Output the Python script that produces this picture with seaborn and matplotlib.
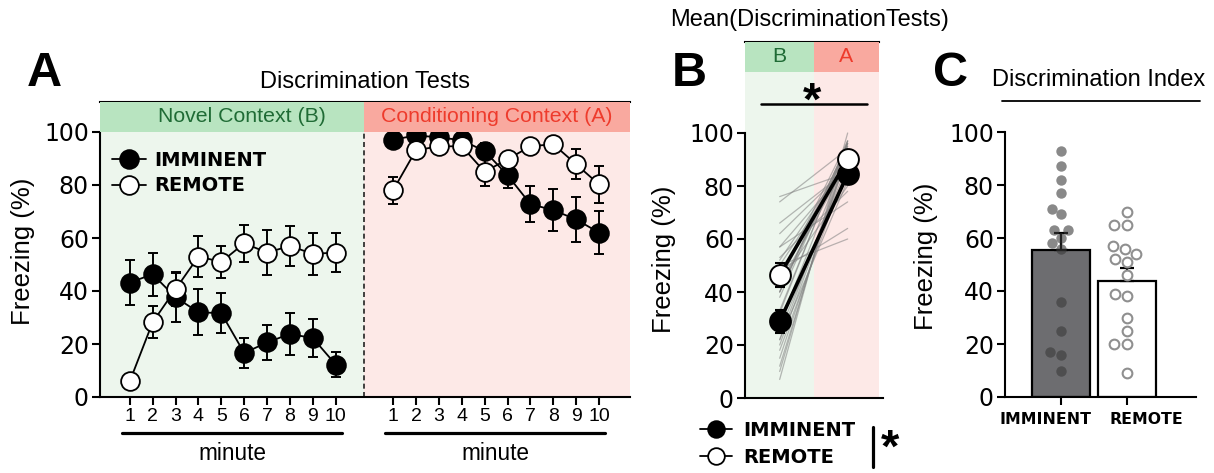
import numpy as np
import pandas as pd
import matplotlib
matplotlib.use("Agg")
import matplotlib.pyplot as plt
import matplotlib.transforms as mtransforms
from matplotlib.lines import Line2D
import seaborn as sns

sns.set_theme(style="ticks")
plt.rcParams["font.family"] = ["Liberation Sans", "DejaVu Sans"]
for k in ["text.color", "axes.labelcolor", "xtick.color", "ytick.color", "axes.edgecolor"]:
    plt.rcParams[k] = "black"

# ---------------- data ----------------
minutes = list(range(1, 11))
imm_B = [43.2, 46.3, 37.6, 32.0, 31.6, 16.6, 20.6, 23.8, 22.2, 12.2]
imm_B_sem = [8.5, 8.0, 9.3, 8.7, 7.5, 5.7, 6.6, 8.0, 7.2, 4.7]
rem_B = [5.9, 28.2, 40.7, 53.0, 51.0, 58.0, 54.5, 57.0, 54.0, 54.5]
rem_B_sem = [1.0, 6.0, 6.5, 7.8, 6.0, 7.0, 8.5, 7.5, 8.0, 7.5]
imm_A = [97.1, 98.7, 98.0, 96.9, 92.8, 83.7, 72.8, 70.5, 67.0, 62.0]
imm_A_sem = [2.0, 1.5, 1.5, 1.5, 3.0, 4.8, 6.8, 8.0, 8.5, 8.2]
rem_A = [78.0, 93.1, 94.6, 94.6, 85.0, 89.7, 94.6, 95.4, 87.8, 80.2]
rem_A_sem = [5.0, 2.0, 1.5, 1.5, 5.5, 2.5, 1.5, 1.5, 5.6, 7.0]

contexts = ["B", "A"]
imm_mean = [28.9, 84.4]
imm_mean_sem = [4.3, 2.5]
rem_mean = [46.4, 90.0]
rem_mean_sem = [4.4, 2.0]

imm_ind_B = [7, 10, 12, 15, 20, 18, 25, 33, 22, 28, 40, 44, 53, 57, 48, 50]
imm_ind_A = [100, 97, 94, 92, 91, 87, 88, 96, 82, 86, 96, 80, 78, 74, 64, 60]
rem_ind_B = [22, 28, 32, 38, 40, 40, 45, 44, 43, 50, 52, 57, 62, 66, 74, 76]
rem_ind_A = [92, 93, 97, 95, 96, 94, 97, 95, 89, 89, 90, 87, 87, 86, 94, 85]

groups = ["IMMINENT", "REMOTE"]
imm_DI = [93, 87, 82, 77, 71, 69, 63, 63, 60, 58, 56, 36, 25, 17, 16, 10]
rem_DI = [70, 65, 65, 57, 56, 54, 52, 51, 46, 39, 38, 30, 25, 20, 20, 9]
DI_mean = [55.5, 43.9]
DI_sem = [6.5, 4.7]

# ---------------- style ----------------
G_LIGHT, G_HEAD, G_TEXT = "#edf6ed", "#b8e4c0", "#1f6b35"
R_LIGHT, R_HEAD, R_TEXT = "#fde9e7", "#f9a99f", "#ee3b2c"
BAR_DARK = "#6d6d70"
TICKFONT = "DejaVu Sans"

W, H = 1214, 473
fig = plt.figure(figsize=(W / 100, H / 100), dpi=100)


def ax_px(x0, x1, y_top, y_bot):
    return fig.add_axes([x0 / W, 1 - y_bot / H, (x1 - x0) / W, (y_bot - y_top) / H])


def style_axes(ax):
    for s in ["left", "bottom", "top"]:
        ax.spines[s].set_linewidth(1.5)
        ax.spines[s].set_color("black")
    ax.spines["right"].set_visible(False)
    ax.tick_params(axis="both", direction="out", length=6, width=1.5, color="black", pad=2)
    ax.set_yticks([0, 20, 40, 60, 80, 100])
    for lab in ax.get_yticklabels():
        lab.set_fontfamily(TICKFONT)
        lab.set_fontsize(17)
    ax.spines["left"].set_bounds(0, 100)
    ax.grid(False)
    ax.set_facecolor("none")


# ================= Panel A =================
axA = ax_px(100, 630, 102, 397)
ytopA = 100 * 295 / 265
xlA = (-0.3, 22.85)
axA.set_xlim(*xlA)
axA.set_ylim(0, ytopA)
left_pos = list(minutes)
right_pos = [m + 11.5 for m in minutes]
split = 11.25
hfrac = 100 / ytopA
axA.axvspan(xlA[0], split, ymin=0, ymax=hfrac, color=G_LIGHT, lw=0, zorder=0)
axA.axvspan(split, xlA[1], ymin=0, ymax=hfrac, color=R_LIGHT, lw=0, zorder=0)
axA.axvspan(xlA[0], split, ymin=hfrac, ymax=1, color=G_HEAD, lw=0, zorder=10)
axA.axvspan(split, xlA[1], ymin=hfrac, ymax=1, color=R_HEAD, lw=0, zorder=10)
axA.plot([split, split], [0, 100], ls=(0, (3, 2)), color="#222222", lw=1.2, zorder=1)

series = [
    (left_pos, imm_B, imm_B_sem, "black"),
    (right_pos, imm_A, imm_A_sem, "black"),
    (left_pos, rem_B, rem_B_sem, "white"),
    (right_pos, rem_A, rem_A_sem, "white"),
]
for pos, vals, sem, face in series:
    axA.errorbar(pos, vals, yerr=sem, fmt="none", ecolor="black", elinewidth=1.4,
                 capsize=3.5, capthick=1.4, zorder=2)
    sns.lineplot(x=pos, y=vals, ax=axA, color="black", lw=1.3, marker="o",
                 markersize=13.5, markerfacecolor=face, markeredgecolor="black",
                 markeredgewidth=1.3, zorder=3)

style_axes(axA)
axA.set_xticks(left_pos + right_pos)
axA.set_xticklabels([str(m) for m in minutes] * 2, fontsize=14)
axA.set_xlabel("")
axA.set_ylabel("Freezing (%)", fontsize=18.5)
axA.yaxis.set_label_coords(-0.122, 0.495)

axA.text(5.9, (100 + ytopA) / 2, "Novel Context (B)", ha="center", va="center",
         color=G_TEXT, fontsize=15.3, zorder=11)
axA.text(17.04, (100 + ytopA) / 2, "Conditioning Context (A)", ha="center", va="center",
         color=R_TEXT, fontsize=15.3, zorder=11)

trA = mtransforms.blended_transform_factory(axA.transData, axA.transAxes)
for pos in (left_pos, right_pos):
    x0, x1 = pos[0] - 0.34, pos[-1] + 0.27
    axA.plot([x0, x1], [-0.122, -0.122], transform=trA, clip_on=False, color="black", lw=2.3)
    axA.text((x0 + x1) / 2, -0.19, "minute", transform=trA, ha="center", va="center",
             fontsize=16.3)

handles = [
    Line2D([], [], color="black", lw=1.3, marker="o", markersize=13.5,
           markerfacecolor="black", markeredgecolor="black", markeredgewidth=1.3),
    Line2D([], [], color="black", lw=1.3, marker="o", markersize=13.5,
           markerfacecolor="white", markeredgecolor="black", markeredgewidth=1.3),
]
axA.legend(handles, groups, loc="upper left", bbox_to_anchor=(0.022, 0.835), frameon=False,
           prop={"family": "DejaVu Sans", "weight": "bold", "size": 14},
           handlelength=1.75, handletextpad=0.45, labelspacing=0.35, borderaxespad=0,
           borderpad=0)

fig.text(365 / W, 1 - 82 / H, "Discrimination Tests", ha="center", va="center", fontsize=17)
fig.text(44 / W, 1 - 74 / H, "A", ha="center", va="center", fontsize=35, fontweight="bold")

# ================= Panel B =================
axB = ax_px(745, 883, 42, 398)
ytopB = 356 / 2.65
hB = 326 / 2.65
xlB = (-0.51, 1.52)
axB.set_xlim(*xlB)
axB.set_ylim(0, ytopB)
bfrac = hB / ytopB
axB.axvspan(xlB[0], 0.5, ymin=0, ymax=bfrac, color=G_LIGHT, lw=0, zorder=0)
axB.axvspan(0.5, 1.46, ymin=0, ymax=bfrac, color=R_LIGHT, lw=0, zorder=0)
axB.axvspan(xlB[0], 0.5, ymin=bfrac, ymax=1, color=G_HEAD, lw=0, zorder=10)
axB.axvspan(0.5, 1.46, ymin=bfrac, ymax=1, color=R_HEAD, lw=0, zorder=10)

rows = []
for gname, bv, av in [("IMM", imm_ind_B, imm_ind_A), ("REM", rem_ind_B, rem_ind_A)]:
    for i, (b, a) in enumerate(zip(bv, av)):
        rows.append({"animal": f"{gname}{i}", "pos": 0, "val": b})
        rows.append({"animal": f"{gname}{i}", "pos": 1, "val": a})
df_ind = pd.DataFrame(rows)
sns.lineplot(data=df_ind, x="pos", y="val", units="animal", estimator=None,
             color="#808080", alpha=0.55, lw=0.9, ax=axB, zorder=1)

for vals, sem, face in [(imm_mean, imm_mean_sem, "black"), (rem_mean, rem_mean_sem, "white")]:
    axB.errorbar([0, 1], vals, yerr=sem, fmt="none", ecolor="black", elinewidth=1.5,
                 capsize=3.5, capthick=1.5, zorder=2)
    sns.lineplot(x=[0, 1], y=vals, ax=axB, color="black", lw=2.6, marker="o",
                 markersize=15, markerfacecolor=face, markeredgecolor="black",
                 markeredgewidth=1.4, zorder=3)

style_axes(axB)
axB.spines["top"].set_bounds(xlB[0], 1.46)
axB.set_xticks([])
axB.set_xlabel("")
axB.set_ylabel("Freezing (%)", fontsize=18.5)
axB.yaxis.set_label_coords(-0.50, 0.39)
axB.text(0.0, (hB + ytopB) / 2, contexts[0], ha="center", va="center", color=G_TEXT,
         fontsize=15.3, zorder=11)
axB.text(0.98, (hB + ytopB) / 2, contexts[1], ha="center", va="center", color=R_TEXT,
         fontsize=15.3, zorder=11)
axB.plot([-0.28, 1.29], [110.9, 110.9], color="black", lw=1.8, clip_on=False, zorder=4)
axB.text(0.475, 111.3, "*", ha="center", va="center", fontsize=34, fontweight="bold",
         zorder=4)

fig.text(810 / W, 1 - 20 / H, "Mean(DiscriminationTests)", ha="center", va="center",
         fontsize=17)
fig.text(689 / W, 1 - 73 / H, "B", ha="center", va="center", fontsize=35, fontweight="bold")

handlesB = [
    Line2D([], [], color="black", lw=1.3, marker="o", markersize=12,
           markerfacecolor="black", markeredgecolor="black", markeredgewidth=1.3),
    Line2D([], [], color="black", lw=1.3, marker="o", markersize=12,
           markerfacecolor="white", markeredgecolor="black", markeredgewidth=1.3),
]
fig.legend(handlesB, groups, loc="upper left", bbox_to_anchor=(700 / W, 1 - 421 / H),
           frameon=False, prop={"family": "DejaVu Sans", "weight": "bold", "size": 14},
           handlelength=1.65, handletextpad=0.55, labelspacing=0.42, borderaxespad=0,
           borderpad=0)
fig.add_artist(Line2D([873 / W, 873 / W], [1 - 427 / H, 1 - 467 / H], color="black", lw=2.3))
fig.text(890 / W, 1 - 450 / H, "*", ha="center", va="center", fontsize=34, fontweight="bold")

# ================= Panel C =================
axC = ax_px(1005, 1196, 132, 397)
axC.set_xlim(-0.85, 2.05)
axC.set_ylim(0, 100)
sns.barplot(x=groups, y=DI_mean, hue=groups, palette=[BAR_DARK, "white"], legend=False,
            edgecolor="black", linewidth=1.6, width=0.88, ax=axC, zorder=1)
axC.errorbar([0, 1], DI_mean, yerr=[[0, 0], DI_sem], fmt="none", ecolor="black",
             elinewidth=1.6, capsize=5, capthick=1.6, zorder=2)

df_di = pd.DataFrame({"group": ["IMMINENT"] * len(imm_DI) + ["REMOTE"] * len(rem_DI),
                      "DI": imm_DI + rem_DI})
sns.swarmplot(data=df_di[df_di.group == "IMMINENT"], x="group", y="DI", order=groups,
              color="#3a3a3a", alpha=0.6, size=7.5, linewidth=0, ax=axC, zorder=3)
sns.swarmplot(data=df_di[df_di.group == "REMOTE"], x="group", y="DI", order=groups,
              color="white", size=7, ax=axC, zorder=3)
coll = axC.collections[-1]
coll.set_facecolor("white")
coll.set_edgecolor("#8f8f8f")
coll.set_linewidth(1.5)

style_axes(axC)
axC.spines["top"].set_visible(False)
axC.set_xlim(-0.85, 2.05)
axC.set_xticks([0, 1])
axC.set_xticklabels(groups, fontfamily="DejaVu Sans", fontweight="bold", fontsize=11.3)
axC.tick_params(axis="x", pad=5)
for lab, dx in zip(axC.get_xticklabels(), [-0.15, 0.20]):
    lab.set_transform(lab.get_transform() +
                      mtransforms.ScaledTranslation(dx, 0, fig.dpi_scale_trans))
axC.set_xlabel("")
axC.set_ylabel("Freezing (%)", fontsize=18.5)
axC.yaxis.set_label_coords(-0.35, 0.53)

fig.text(1099 / W, 1 - 80 / H, "Discrimination Index", ha="center", va="center", fontsize=17)
fig.add_artist(Line2D([1002 / W, 1200 / W], [1 - 101 / H, 1 - 101 / H], color="black", lw=1.3))
fig.text(950 / W, 1 - 73 / H, "C", ha="center", va="center", fontsize=35, fontweight="bold")

fig.savefig("out.png", dpi=100, facecolor="white")
